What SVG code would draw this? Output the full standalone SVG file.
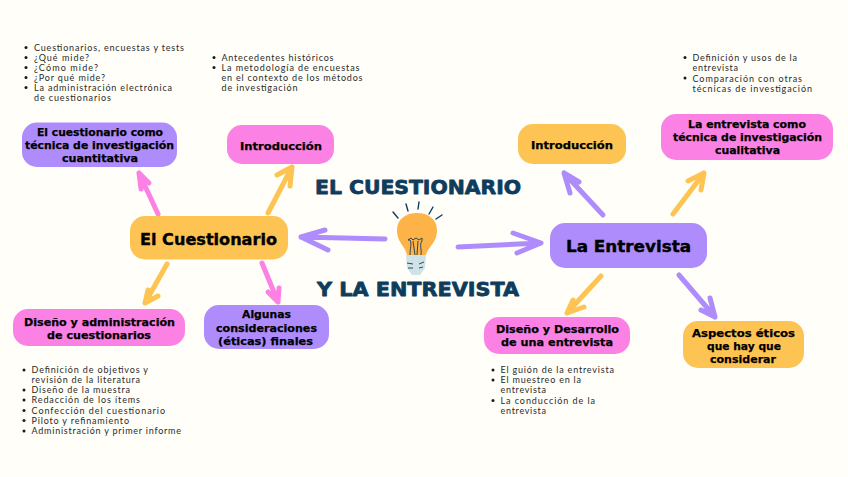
<svg xmlns="http://www.w3.org/2000/svg" width="848" height="477" viewBox="0 0 848 477">
<style>
.n{font-family:"DejaVu Sans","Noto Sans",sans-serif;font-weight:700;font-size:10.500px;fill:#000;stroke:#000;stroke-width:.25px;text-anchor:start}
.big{font-size:16.500px;stroke-width:.4px}
.t{font-family:"DejaVu Sans","Noto Sans",sans-serif;font-weight:700;font-size:20px;fill:#0f3c5c;stroke:#0f3c5c;stroke-width:.8px;stroke-linejoin:round}
.b{font-family:"Lato","Noto Sans",sans-serif;font-weight:400;font-size:9px;fill:#2a2a2a}
.d{fill:#1a1a1a}
.a{fill:none;stroke-width:5px;stroke-linecap:round;stroke-linejoin:round}
.pu{fill:#ae8cfb}.pi{fill:#fb82e4}.ye{fill:#fdc453}
.spu{stroke:#ae8cfb}.spi{stroke:#fb82e4}.sye{stroke:#fdc453}
.ray{fill:none;stroke:#0f3c5c;stroke-width:1.400px;stroke-linecap:round}
</style>
<rect width="848" height="477" fill="#fffef8"/>
<g id="connectors">
<path class="a spi" d="M158 214L139 173M149 183L139 173L141 189"/>
<path class="a sye" d="M268 213L292 167M277 175L292 167L290 186"/>
<path class="a spu" d="M385 239L301 237M325 230L301 237L328 250"/>
<path class="a spu" d="M458 247L541 243M513 233L541 243L517 253"/>
<path class="a sye" d="M167 264L145 303M148 290L145 303L158 296"/>
<path class="a spi" d="M262 263L278 302M268 292L278 302L279 288"/>
<path class="a spu" d="M603 215L564 173M579 182L564 173L570 193"/>
<path class="a sye" d="M673 214L704 173M688 181L704 173L701 190"/>
<path class="a sye" d="M601 276L567 313M573 300L567 313L584 307"/>
<path class="a spu" d="M679 275L715 317M710 298L715 317L701 310"/>
</g>
<g id="title">
<text class="t" x="315" y="194" textLength="206" lengthAdjust="spacingAndGlyphs">EL CUESTIONARIO</text>
<text class="t" x="317" y="296" textLength="202" lengthAdjust="spacingAndGlyphs">Y LA ENTREVISTA</text>
</g>
<g id="bulb">
<path d="M407 255C405 245 397 243 397 230C397 219 406 213 417 213C428 213 437 219 437 230C437 243 429 245 426 255Z" fill="#fdb347"/>
<path d="M410 255C410 248 412 244 410 240L408 240L411 238L413 240L416 238L419 240L422 238L422 241C419 245 422 249 421 255M413 241L415 255M418 241L417 255" fill="none" stroke="#0f3c5c" stroke-width=".9"/>
<path d="M406 255H426L425 268L420 275H412L407 268Z" fill="#cfe3e6"/>
<path d="M407 263L413 264M419 264L424 262M408 268L413 268M419 268L423 267" fill="none" stroke="#0f3c5c" stroke-width=".9"/>
<path class="ray" d="M393 212L398 218M406 204L408 211M419 202L418 209M433 207L429 214M442 215L436 219"/>
</g>
<g id="n-cuestionario-tecnica">
<rect class="pu" x="22" y="122.500" width="155" height="44.500" rx="15"/>
<text class="n" x="37" y="136" textLength="126" lengthAdjust="spacingAndGlyphs">El cuestionario como</text>
<text class="n" x="25" y="149" textLength="149" lengthAdjust="spacingAndGlyphs">técnica de investigación</text>
<text class="n" x="62" y="162" textLength="76" lengthAdjust="spacingAndGlyphs">cuantitativa</text>
</g>
<g id="n-intro-izq">
<rect class="pi" x="227" y="125" width="107" height="39" rx="15"/>
<text class="n" x="240" y="150" textLength="82" lengthAdjust="spacingAndGlyphs">Introducción</text>
</g>
<g id="n-el-cuestionario">
<rect class="ye" x="130" y="216" width="158" height="43.500" rx="15"/>
<text class="n big" x="140" y="245" textLength="137" lengthAdjust="spacingAndGlyphs">El Cuestionario</text>
</g>
<g id="n-diseno-admin">
<rect class="pi" x="13" y="309" width="172" height="37" rx="15"/>
<text class="n" x="24" y="326" textLength="151" lengthAdjust="spacingAndGlyphs">Diseño y administración</text>
<text class="n" x="47" y="339" textLength="104" lengthAdjust="spacingAndGlyphs">de cuestionarios</text>
</g>
<g id="n-algunas">
<rect class="pu" x="204" y="305" width="125" height="44" rx="15"/>
<text class="n" x="242" y="318" textLength="49" lengthAdjust="spacingAndGlyphs">Algunas</text>
<text class="n" x="216" y="332" textLength="101" lengthAdjust="spacingAndGlyphs">consideraciones</text>
<text class="n" x="218" y="345" textLength="95" lengthAdjust="spacingAndGlyphs">(éticas) finales</text>
</g>
<g id="n-intro-der">
<rect class="ye" x="518" y="124" width="108" height="40" rx="15"/>
<text class="n" x="531" y="149" textLength="82" lengthAdjust="spacingAndGlyphs">Introducción</text>
</g>
<g id="n-entrevista-tecnica">
<rect class="pi" x="661" y="114" width="172" height="46" rx="15"/>
<text class="n" x="688" y="128" textLength="118" lengthAdjust="spacingAndGlyphs">La entrevista como</text>
<text class="n" x="673" y="141" textLength="149" lengthAdjust="spacingAndGlyphs">técnica de investigación</text>
<text class="n" x="715" y="154" textLength="65" lengthAdjust="spacingAndGlyphs">cualitativa</text>
</g>
<g id="n-la-entrevista">
<rect class="pu" x="550" y="223" width="157" height="45" rx="15"/>
<text class="n big" x="566" y="252" textLength="125" lengthAdjust="spacingAndGlyphs">La Entrevista</text>
</g>
<g id="n-diseno-desarrollo">
<rect class="pi" x="484" y="317" width="146" height="37" rx="15"/>
<text class="n" x="496" y="333" textLength="123" lengthAdjust="spacingAndGlyphs">Diseño y Desarrollo</text>
<text class="n" x="501" y="346" textLength="112" lengthAdjust="spacingAndGlyphs">de una entrevista</text>
</g>
<g id="n-aspectos">
<rect class="ye" x="683" y="321" width="121" height="47" rx="15"/>
<text class="n" x="692" y="337" textLength="103" lengthAdjust="spacingAndGlyphs">Aspectos éticos</text>
<text class="n" x="707" y="350" textLength="74" lengthAdjust="spacingAndGlyphs">que hay que</text>
<text class="n" x="710" y="363" textLength="66" lengthAdjust="spacingAndGlyphs">considerar</text>
</g>
<g id="list-cuestionario">
<circle class="d" cx="26" cy="47.500" r="1.500"/><circle class="d" cx="26" cy="57.500" r="1.500"/><circle class="d" cx="26" cy="67.500" r="1.500"/><circle class="d" cx="26" cy="77.500" r="1.500"/><circle class="d" cx="26" cy="87.500" r="1.500"/>
<text class="b" x="34" y="51" textLength="150">Cuestionarios, encuestas y tests</text>
<text class="b" x="34" y="61" textLength="55">¿Qué mide?</text>
<text class="b" x="34" y="71" textLength="64">¿Cómo mide?</text>
<text class="b" x="34" y="81" textLength="71">¿Por qué mide?</text>
<text class="b" x="34" y="91" textLength="138">La administración electrónica</text>
<text class="b" x="34" y="101" textLength="77">de cuestionarios</text>
</g>
<g id="list-intro-izq">
<circle class="d" cx="214" cy="57.500" r="1.500"/><circle class="d" cx="214" cy="67.500" r="1.500"/>
<text class="b" x="221.500" y="61" textLength="112">Antecedentes históricos</text>
<text class="b" x="221.500" y="71" textLength="138">La metodología de encuestas</text>
<text class="b" x="221.500" y="81" textLength="141">en el contexto de los métodos</text>
<text class="b" x="221.500" y="91" textLength="76">de investigación</text>
</g>
<g id="list-diseno-admin">
<circle class="d" cx="24" cy="370" r="1.500"/><circle class="d" cx="24" cy="390" r="1.500"/><circle class="d" cx="24" cy="400" r="1.500"/><circle class="d" cx="24" cy="410.500" r="1.500"/><circle class="d" cx="24" cy="420.500" r="1.500"/><circle class="d" cx="24" cy="431" r="1.500"/>
<text class="b" x="31.500" y="373" textLength="116.500">Definición de objetivos y</text>
<text class="b" x="31.500" y="383" textLength="108.500">revisión de la literatura</text>
<text class="b" x="31.500" y="393" textLength="98.500">Diseño de la muestra</text>
<text class="b" x="31.500" y="403" textLength="108.500">Redacción de los ítems</text>
<text class="b" x="31.500" y="414" textLength="133.500">Confección del cuestionario</text>
<text class="b" x="31.500" y="424" textLength="97.500">Piloto y refinamiento</text>
<text class="b" x="31.500" y="434" textLength="149.500">Administración y primer informe</text>
</g>
<g id="list-diseno-desarrollo">
<circle class="d" cx="493" cy="370" r="1.500"/><circle class="d" cx="493" cy="380" r="1.500"/><circle class="d" cx="493" cy="400.500" r="1.500"/>
<text class="b" x="500.500" y="373" textLength="113.500">El guión de la entrevista</text>
<text class="b" x="500.500" y="383" textLength="80.500">El muestreo en la</text>
<text class="b" x="500.500" y="393" textLength="45.500">entrevista</text>
<text class="b" x="500.500" y="404" textLength="94.500">La conducción de la</text>
<text class="b" x="500.500" y="414" textLength="45.500">entrevista</text>
</g>
<g id="list-entrevista">
<circle class="d" cx="685" cy="57.500" r="1.500"/><circle class="d" cx="685" cy="78" r="1.500"/>
<text class="b" x="692.500" y="61" textLength="104.500">Definición y usos de la</text>
<text class="b" x="692.500" y="71" textLength="45.500">entrevista</text>
<text class="b" x="692.500" y="81.500" textLength="109.500">Comparación con otras</text>
<text class="b" x="692.500" y="91.500" textLength="119.500">técnicas de investigación</text>
</g>
</svg>
